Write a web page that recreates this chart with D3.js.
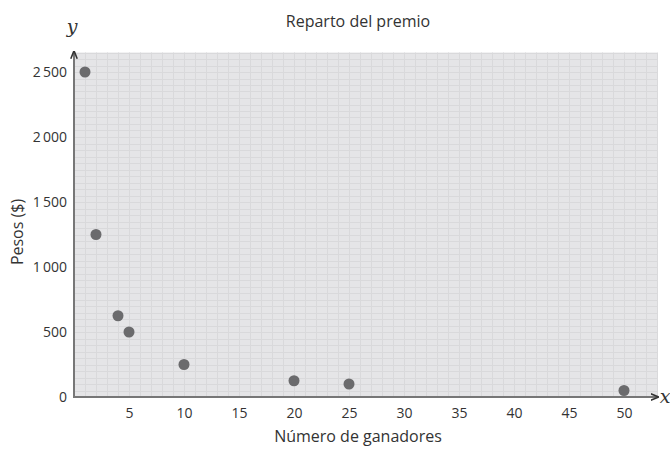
<!DOCTYPE html>
<html>
<head>
<meta charset="utf-8">
<script src="https://cdn.jsdelivr.net/npm/d3@7"></script>
<style>
  body { margin: 0; background: #fff; }
  text { font-family: "Open Sans", "Noto Sans", sans-serif; fill: #333; }
</style>
</head>
<body>
<svg id="chart" width="670" height="449"></svg>
<script>
// data
const ganadores = [1, 2, 4, 5, 10, 20, 25, 50];
const pesos = [2500, 1250, 625, 500, 250, 125, 100, 50];
const xTicks = [5, 10, 15, 20, 25, 30, 35, 40, 45, 50];
const yTicks = [0, 500, 1000, 1500, 2000, 2500];

const svg = d3.select("#chart");
const xMax = 53, yMax = 2650;

const x = d3.scaleLinear().domain([0, xMax]).range([74, 74 + xMax * 11]);
const y = d3.scaleLinear().domain([0, yMax]).range([397, 397 - yMax * 0.13]);

// grid background
svg.append("rect")
    .attr("x", x(0)).attr("y", y(yMax))
    .attr("width", x(xMax) - x(0)).attr("height", y(0) - y(yMax))
    .attr("fill", "#e5e5e7");

const grid = svg.append("g").attr("stroke", "#d9d9db").attr("stroke-width", 1);
grid.selectAll(".v").data(d3.range(1, xMax + 1)).join("line")
    .attr("x1", d => x(d) + 0.5).attr("x2", d => x(d) + 0.5)
    .attr("y1", y(yMax)).attr("y2", y(0));
grid.selectAll(".h").data(d3.range(50, yMax + 1, 50)).join("line")
    .attr("x1", x(0)).attr("x2", x(xMax))
    .attr("y1", d => Math.round(y(d)) + 0.5).attr("y2", d => Math.round(y(d)) + 0.5);

// axes
const fmt = d => d >= 1000 ? String(d).replace(/(\d)(\d{3})$/, "$1\u2009$2") : String(d);

const xAxis = svg.append("g").attr("transform", `translate(0,${y(0)})`)
    .call(d3.axisBottom(x).tickValues(xTicks).tickSize(0).tickPadding(11));
xAxis.select(".domain").remove();
xAxis.selectAll("text").style("font-size", "14px").attr("fill", "#333");

const yAxis = svg.append("g").attr("transform", `translate(${x(0)},0)`)
    .call(d3.axisLeft(y).tickValues(yTicks).tickFormat(fmt).tickSize(0).tickPadding(7));
yAxis.select(".domain").remove();
yAxis.selectAll("text").style("font-size", "14px").attr("fill", "#333");

// axis lines with small arrows
const defs = svg.append("defs");
defs.append("marker").attr("id", "arrow")
    .attr("viewBox", "0 0 10 10").attr("refX", 9).attr("refY", 5)
    .attr("markerWidth", 4).attr("markerHeight", 4).attr("orient", "auto")
    .append("path").attr("d", "M0,1 L10,5 L0,9").attr("fill", "none")
    .attr("stroke", "#333").attr("stroke-width", 2);

svg.append("line")
    .attr("x1", x(0)).attr("y1", y(0)).attr("x2", x(xMax) + 1).attr("y2", y(0))
    .attr("stroke", "#777").attr("stroke-width", 2).attr("marker-end", "url(#arrow)");
svg.append("line")
    .attr("x1", x(0)).attr("y1", y(0) + 1).attr("x2", x(0)).attr("y2", y(yMax) - 1)
    .attr("stroke", "#777").attr("stroke-width", 2).attr("marker-end", "url(#arrow)");

// points
svg.append("g").selectAll("circle").data(ganadores).join("circle")
    .attr("cx", d => x(d))
    .attr("cy", (d, i) => y(pesos[i]))
    .attr("r", 5.5)
    .attr("fill", "#6b6b6d");

// labels
svg.append("text").attr("x", 358).attr("y", 27).attr("text-anchor", "middle")
    .style("font-size", "16px").text("Reparto del premio");
svg.append("text").attr("x", 358).attr("y", 442).attr("text-anchor", "middle")
    .style("font-size", "16px").text("Número de ganadores");
svg.append("text")
    .attr("transform", `translate(23,232) rotate(-90)`)
    .attr("text-anchor", "middle")
    .style("font-size", "16px").text("Pesos ($)");
svg.append("text").attr("x", 72).attr("y", 33).attr("text-anchor", "middle")
    .style("font-family", "'DejaVu Serif', serif").style("font-style", "italic")
    .style("font-size", "19px").text("y");
svg.append("text").attr("x", 665).attr("y", 403).attr("text-anchor", "middle")
    .style("font-family", "'DejaVu Serif', serif").style("font-style", "italic")
    .style("font-size", "19px").text("x");
</script>
</body>
</html>
